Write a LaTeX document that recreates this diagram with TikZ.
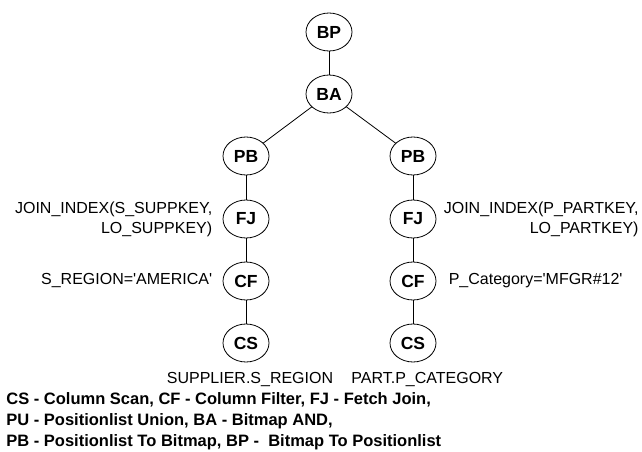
\documentclass[tikz,border=0pt]{standalone}
\usepackage{fontspec}
\setmainfont{Liberation Sans}
\usetikzlibrary{shapes.geometric,positioning}
\begin{document}
\begin{tikzpicture}[x=1pt, y=-1pt, line width=0.8pt,
    every node/.style={font=\fontsize{16}{20}\selectfont},
    op/.style={draw, ellipse, minimum width=46pt, minimum height=38pt, inner sep=0pt,
        font=\fontsize{17.5}{20}\selectfont\bfseries},
    lbl/.style={align=right, inner sep=0pt}]
    \useasboundingbox (0,0) rectangle (642,452);
    % operator tree
    \node[op] (bp) at (329,32) {BP};
    \node[op] (ba) at (329,94) {BA};
    \node[op] (pbl) at (246,156) {PB};
    \node[op] (pbr) at (413,156) {PB};
    \node[op] (fjl) at (246,219) {FJ};
    \node[op] (fjr) at (413,219) {FJ};
    \node[op] (cfl) at (246,281) {CF};
    \node[op] (cfr) at (413,281) {CF};
    \node[op] (csl) at (246,343) {CS};
    \node[op] (csr) at (413,343) {CS};
    \draw (bp) -- (ba);
    \draw (ba) -- (pbl);
    \draw (ba) -- (pbr);
    \draw (pbl) -- (fjl) -- (cfl) -- (csl);
    \draw (pbr) -- (fjr) -- (cfr) -- (csr);
    % annotations
    \node[lbl, left=10pt of fjl] (jil) {JOIN\_INDEX(S\_SUPPKEY,\\LO\_SUPPKEY)};
    \node[lbl, left=10pt of cfl] (prl) {S\_REGION=\textquotesingle AMERICA\textquotesingle};
    \node[lbl, right=7pt of fjr] (jir) {JOIN\_INDEX(P\_PARTKEY,\\LO\_PARTKEY)};
    \node[lbl, right=12pt of cfr] (prr) {P\_Category=\textquotesingle MFGR\#12\textquotesingle};
    \node[inner sep=0pt] (tbl) at (250,379) {SUPPLIER.S\_REGION};
    \node[inner sep=0pt, anchor=west] (tbr) at (351,379) {PART.P\_CATEGORY};
    % legend
    \node[anchor=west, align=left, inner sep=0pt, font=\fontsize{16.5}{21}\selectfont\bfseries]
        (leg) at (6,421) {CS - Column Scan, CF - Column Filter, FJ - Fetch Join,\\
        PU - Positionlist Union, BA - Bitmap AND,\\
        PB - Positionlist To Bitmap, BP - \ Bitmap To Positionlist};
\end{tikzpicture}
\end{document}
